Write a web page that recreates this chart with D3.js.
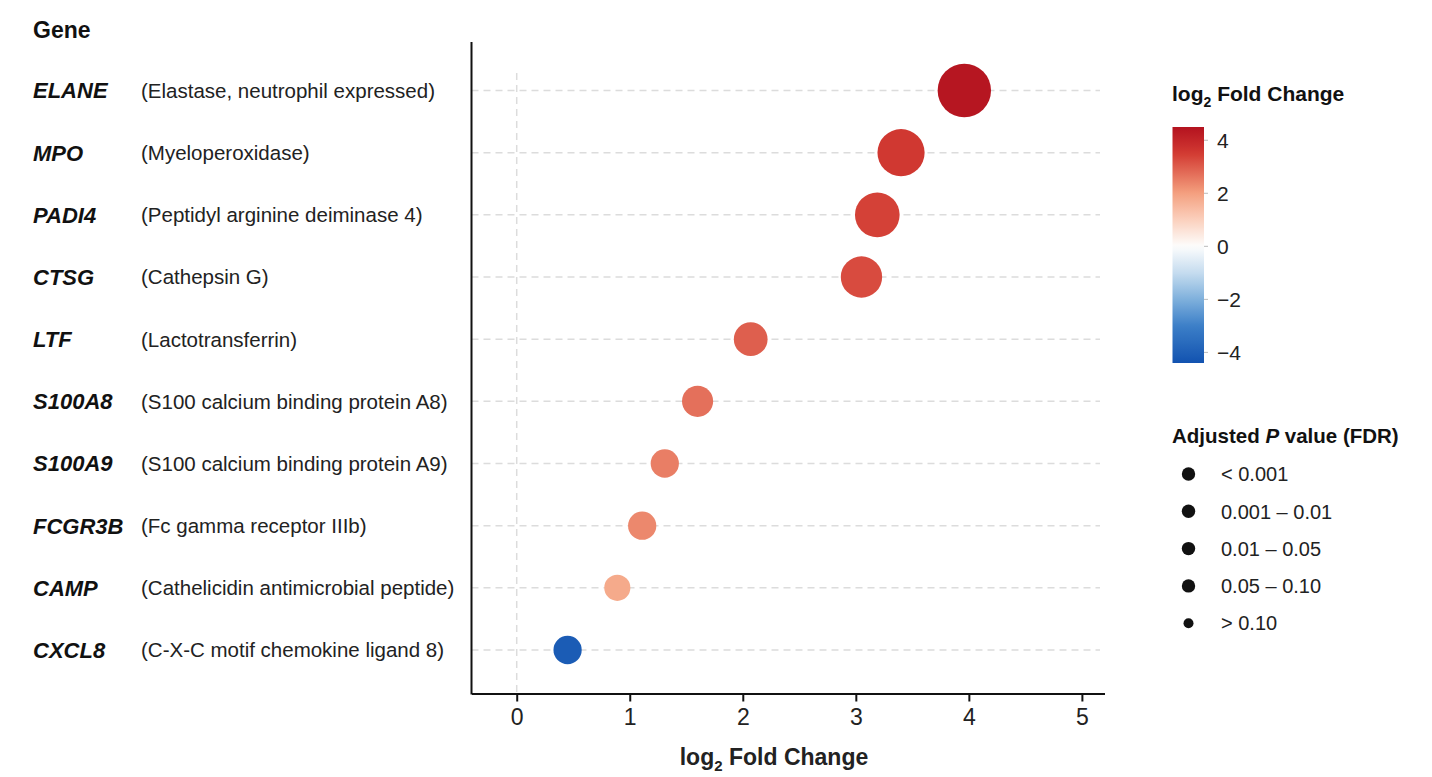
<!DOCTYPE html>
<html>
<head>
<meta charset="utf-8">
<script src="https://cdn.jsdelivr.net/npm/d3@7"></script>
<style>
  body { margin: 0; background: #fff; }
  svg { font-family: "Liberation Sans", Arial, sans-serif; }
</style>
</head>
<body>
<div id="chart"></div>
<script>
// Data
const genes = ["ELANE", "MPO", "PADI4", "CTSG", "LTF", "S100A8", "S100A9", "FCGR3B", "CAMP", "CXCL8"];
const descriptions = [
  "(Elastase, neutrophil expressed)",
  "(Myeloperoxidase)",
  "(Peptidyl arginine deiminase 4)",
  "(Cathepsin G)",
  "(Lactotransferrin)",
  "(S100 calcium binding protein A8)",
  "(S100 calcium binding protein A9)",
  "(Fc gamma receptor IIIb)",
  "(Cathelicidin antimicrobial peptide)",
  "(C-X-C motif chemokine ligand 8)"
];
const log2FC = [3.96, 3.40, 3.19, 3.05, 2.07, 1.60, 1.31, 1.11, 0.89, 0.45];
// value used for the fill colour (as drawn)
const colorValue = [4.4, 3.55, 3.4, 3.25, 2.95, 2.7, 2.5, 2.35, 1.8, -4.1];
// dot size variable (-log10 FDR)
const negLog10FDR = [10.0, 7.8, 7.0, 6.0, 4.0, 3.4, 2.8, 2.8, 2.4, 2.8];

const xTicks = [0, 1, 2, 3, 4, 5];
const colorTicks = [4, 2, 0, -2, -4];
const fdrLabels = ["< 0.001", "0.001 \u2013 0.01", "0.01 \u2013 0.05", "0.05 \u2013 0.10", "> 0.10"];
const fdrRadius = [6.7, 6.7, 6.7, 6.7, 5];

const rows = genes.map((g, i) => ({
  gene: g, desc: descriptions[i], fc: log2FC[i], cv: colorValue[i], sig: negLog10FDR[i]
}));

const width = 1432, height = 777;

const svg = d3.select("#chart").append("svg")
  .attr("width", width)
  .attr("height", height);

// Scales
const x = d3.scaleLinear().domain([-0.4, 5.2]).range([471.5, 1104.5]);
const y = d3.scalePoint().domain(genes).range([90.5, 650]);
const r = d3.scaleSqrt().domain([0, 10]).range([0, 26.7]);
const color = d3.scaleLinear()
  .domain([-4.5, -3, -2, -1, 0, 1, 2, 3.5, 4.5])
  .range(["#0f4fae", "#3c7fc8", "#7fb0dc", "#c5dcef", "#fdfdfd", "#fbd0bd", "#f4a07f", "#d23a32", "#b3121f"])
  .clamp(true);

const plotTop = 42, plotBottom = 693.5;

// Grid lines
svg.append("g")
  .selectAll("line")
  .data(genes)
  .join("line")
  .attr("x1", x.range()[0])
  .attr("x2", 1100)
  .attr("y1", d => y(d))
  .attr("y2", d => y(d))
  .attr("stroke", "#dcdcdc")
  .attr("stroke-width", 1.5)
  .attr("stroke-dasharray", "7,5");

svg.append("line")
  .attr("x1", x(0)).attr("x2", x(0))
  .attr("y1", 73).attr("y2", plotBottom)
  .attr("stroke", "#dcdcdc")
  .attr("stroke-width", 1.5)
  .attr("stroke-dasharray", "7,5");

// Axes
const xAxis = svg.append("g")
  .attr("transform", `translate(0,${plotBottom})`)
  .call(d3.axisBottom(x).tickValues(xTicks).tickFormat(d3.format("d")).tickSize(8).tickSizeOuter(0));
xAxis.select(".domain").attr("stroke", "#111").attr("stroke-width", 2);
xAxis.selectAll(".tick line").attr("stroke", "#111").attr("stroke-width", 2);
xAxis.selectAll(".tick text")
  .attr("y", 15)
  .attr("fill", "#222")
  .style("font-size", "23px")
  .style("font-family", "'Liberation Sans', Arial, sans-serif");

svg.append("line")
  .attr("x1", x.range()[0]).attr("x2", x.range()[0])
  .attr("y1", plotTop).attr("y2", plotBottom + 1)
  .attr("stroke", "#111")
  .attr("stroke-width", 2);

// Axis title
const xTitle = svg.append("text")
  .attr("x", 774)
  .attr("y", 765)
  .attr("text-anchor", "middle")
  .style("font-size", "23px")
  .style("font-weight", "bold")
  .attr("fill", "#222");
xTitle.append("tspan").text("log");
xTitle.append("tspan").text("2").attr("dy", 6).style("font-size", "15px");
xTitle.append("tspan").text(" Fold Change").attr("dy", -6);

// Row labels
svg.append("text")
  .attr("x", 33).attr("y", 38)
  .text("Gene")
  .style("font-size", "23px")
  .style("font-weight", "bold")
  .attr("fill", "#111");

const labels = svg.append("g")
  .selectAll("g")
  .data(rows)
  .join("g")
  .attr("transform", d => `translate(0,${y(d.gene)})`);

labels.append("text")
  .attr("x", 33)
  .attr("dy", "0.36em")
  .text(d => d.gene)
  .style("font-size", "22px")
  .style("font-weight", "bold")
  .style("font-style", "italic")
  .attr("fill", "#111");

labels.append("text")
  .attr("x", 141)
  .attr("dy", "0.36em")
  .text(d => d.desc)
  .style("font-size", "20.5px")
  .attr("fill", "#222");

// Dots
svg.append("g")
  .selectAll("circle")
  .data(rows)
  .join("circle")
  .attr("cx", d => x(d.fc))
  .attr("cy", d => y(d.gene))
  .attr("r", d => r(d.sig))
  .attr("fill", d => color(d.cv));

// Colour legend
const cbX = 1172.5, cbW = 31.5;
const cbY = d3.scaleLinear().domain([-4.4, 4.5]).range([363, 127]);

const cTitle = svg.append("text")
  .attr("x", 1172).attr("y", 101)
  .style("font-size", "21px")
  .style("font-weight", "bold")
  .attr("fill", "#111");
cTitle.append("tspan").text("log");
cTitle.append("tspan").text("2").attr("dy", 6).style("font-size", "14px");
cTitle.append("tspan").text(" Fold Change").attr("dy", -6);

const defs = svg.append("defs");
const grad = defs.append("linearGradient")
  .attr("id", "fcGrad")
  .attr("x1", "0").attr("y1", "1").attr("x2", "0").attr("y2", "0");
d3.range(0, 1.0001, 0.02).forEach(t => {
  const v = cbY.domain()[0] + t * (cbY.domain()[1] - cbY.domain()[0]);
  grad.append("stop").attr("offset", t).attr("stop-color", color(v));
});

svg.append("rect")
  .attr("x", cbX).attr("y", cbY(4.5))
  .attr("width", cbW).attr("height", cbY(-4.4) - cbY(4.5))
  .attr("fill", "url(#fcGrad)");

const cbTicks = svg.append("g")
  .selectAll("g")
  .data(colorTicks)
  .join("g")
  .attr("transform", d => `translate(0,${cbY(d)})`);
cbTicks.append("line")
  .attr("x1", cbX + cbW).attr("x2", cbX + cbW + 4)
  .attr("stroke", "#bbb");
cbTicks.append("text")
  .attr("x", 1217)
  .attr("dy", "0.36em")
  .text(d => d < 0 ? "\u2212" + Math.abs(d) : d)
  .style("font-size", "21px")
  .attr("fill", "#222");

// FDR legend
const sTitle = svg.append("text")
  .attr("x", 1172).attr("y", 443)
  .style("font-size", "20.5px")
  .style("font-weight", "bold")
  .attr("fill", "#111");
sTitle.append("tspan").text("Adjusted ");
sTitle.append("tspan").text("P").style("font-style", "italic");
sTitle.append("tspan").text(" value (FDR)");

const sItems = svg.append("g")
  .selectAll("g")
  .data(fdrLabels)
  .join("g")
  .attr("transform", (d, i) => `translate(0,${474 + i * 37.3})`);
sItems.append("circle")
  .attr("cx", 1188.5)
  .attr("r", (d, i) => fdrRadius[i])
  .attr("fill", "#111");
sItems.append("text")
  .attr("x", 1221)
  .attr("dy", "0.36em")
  .text(d => d)
  .style("font-size", "20px")
  .attr("fill", "#222");
</script>
</body>
</html>
